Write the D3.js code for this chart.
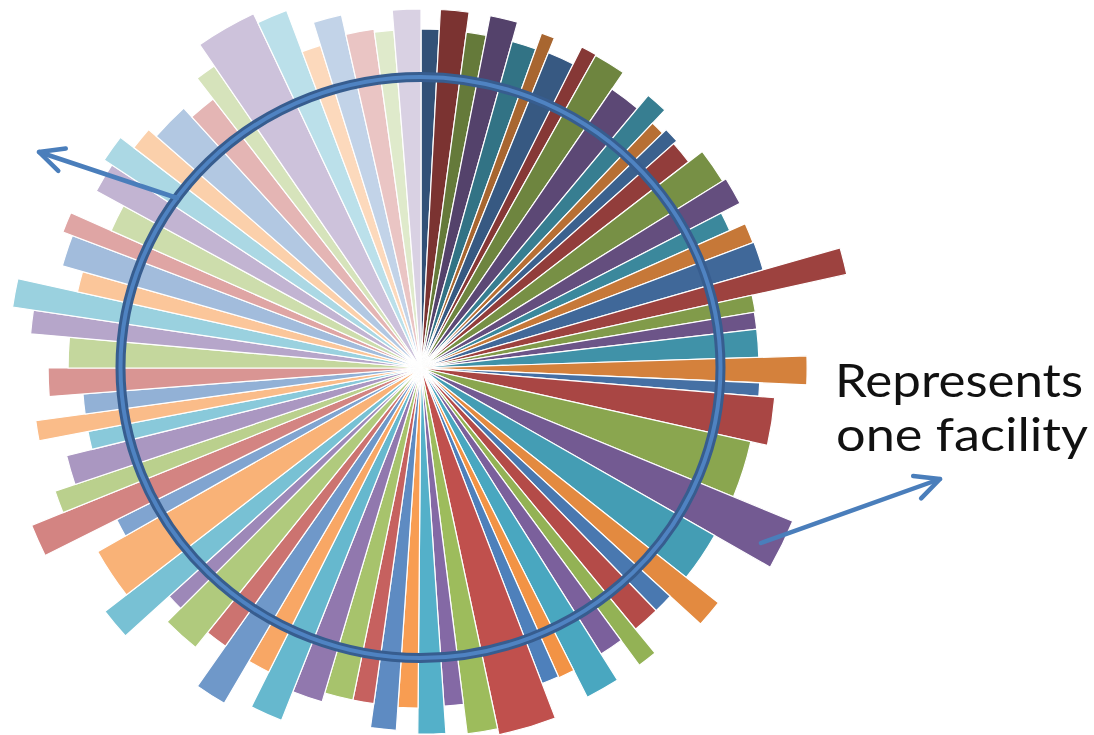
<!DOCTYPE html>
<html>
<head>
<meta charset="utf-8">
<script src="https://cdn.jsdelivr.net/npm/d3@7"></script>
<style>
  html, body { margin: 0; padding: 0; background: #ffffff; }
  svg { display: block; }
</style>
</head>
<body>
<svg id="chart" width="1094" height="735"></svg>
<script>
// Angular share of each facility slice (degrees of the full turn), clockwise from 12 o'clock
const facilityShares = [
  3.1, 4.6, 3.4, 4.5, 4.2, 2.2, 4.6, 2.6, 5.2, 5.4,
  3.6, 2.4, 2.6, 4.0, 5.8, 4.5, 3.3, 3.3, 4.7, 3.6,
  2.9, 2.9, 4.8, 4.3, 2.3, 7.8, 9.8, 7.3, 8.6, 4.2,
  3.4, 4.7, 3.1, 4.1, 5.4, 2.8, 3.0, 9.0, 4.8, 3.3,
  4.4, 3.4, 4.1, 3.6, 4.9, 5.1, 5.0, 3.8, 4.7, 3.8,
  6.1, 2.8, 4.6, 8.0, 3.1, 4.5, 3.4, 4.7, 3.1, 3.0,
  3.4, 4.4, 5.0, 3.5, 4.0, 3.4, 4.9, 3.1, 4.7, 4.7,
  4.2, 3.7, 6.4, 4.7, 3.3, 9.1, 4.7, 3.3, 4.6, 4.8,
  3.3, 4.6
];

// Radial value of each facility slice (same order)
const facilityValues = [
  100, 105.9, 100, 105.9, 100, 105, 100.3, 105.9, 105.6, 99.7,
  104.7, 99.4, 100.9, 99.7, 104.7, 105.9, 99.7, 104.7, 105, 128.6,
  100, 99.7, 99.7, 113.9, 100, 104.7, 99.7, 118.6, 99.7, 111.8,
  99.7, 99.7, 108.8, 99.7, 108.8, 100, 99.7, 110.6, 108.8, 100,
  108, 100.3, 107.1, 100, 100, 102.7, 111.8, 100.3, 114.7, 100.3,
  105.9, 100.3, 117.7, 109.7, 100.3, 123.9, 113.9, 107.7, 100, 114.7,
  100, 110, 104.1, 115.6, 121.8, 103.8, 110, 113, 100, 109.1,
  111.8, 106.8, 103.8, 100.3, 108, 115.6, 112.7, 99.7, 106.8, 100.9,
  100, 105.9
];

// Annotation text lines
const noteLines = ["Represents", "one facility"];

// Theme accent colours, cycled around the wheel
const accents = ["#4F81BD", "#C0504D", "#9BBB59", "#8064A2", "#4BACC6", "#F79646"];

const svg = d3.select("#chart");
const cx = 421, cy = 368;

const facilities = facilityShares.map((s, i) => ({ share: s, value: facilityValues[i], index: i }));

// Brightness runs from shaded (start) through the pure accent to tinted (end)
const brightness = d3.scaleLinear()
  .domain([0, 37, 60, facilities.length - 1])
  .range([-0.37, 0, 0.38, 0.70]);

function sliceColor(i) {
  const base = d3.rgb(accents[i % accents.length]);
  const b = brightness(i);
  if (b < 0) {
    return d3.rgb(base.r * (1 + b), base.g * (1 + b), base.b * (1 + b)).formatHex();
  }
  return d3.rgb(base.r + (255 - base.r) * b, base.g + (255 - base.g) * b, base.b + (255 - base.b) * b).formatHex();
}

const radius = d3.scaleLinear().domain([0, 100]).range([0, 339]);

const pie = d3.pie().sort(null).value(d => d.share);
const arc = d3.arc().innerRadius(0).outerRadius(d => radius(d.data.value));

const g = svg.append("g").attr("transform", `translate(${cx},${cy})`);

g.selectAll("path.slice")
  .data(pie(facilities))
  .join("path")
  .attr("class", "slice")
  .attr("d", arc)
  .attr("fill", d => sliceColor(d.data.index))
  .attr("stroke", "#ffffff")
  .attr("stroke-width", 1.2)
  .attr("stroke-linejoin", "miter");

// Highlight ring around the wheel
const ring = svg.append("g");
ring.append("ellipse")
  .attr("cx", 420.5).attr("cy", 367.5).attr("rx", 300).attr("ry", 290.5)
  .attr("fill", "none").attr("stroke", "#375d8f").attr("stroke-width", 10);
ring.append("ellipse")
  .attr("cx", 420.5).attr("cy", 367.5).attr("rx", 300).attr("ry", 290.5)
  .attr("fill", "none").attr("stroke", "#4f83c2").attr("stroke-width", 4);

// Pointer arrows with open chevron heads
function arrow(x1, y1, x2, y2) {
  const a = Math.atan2(y1 - y2, x1 - x2);
  const len = 27, spread = 26 * Math.PI / 180;
  const grp = svg.append("g")
    .attr("stroke", "#4a7ebb").attr("stroke-width", 4.5)
    .attr("stroke-linecap", "round").attr("stroke-linejoin", "round").attr("fill", "none");
  grp.append("line").attr("x1", x1).attr("y1", y1).attr("x2", x2).attr("y2", y2);
  grp.append("path").attr("d", d3.line()([
    [x2 + len * Math.cos(a + spread), y2 + len * Math.sin(a + spread)],
    [x2, y2],
    [x2 + len * Math.cos(a - spread), y2 + len * Math.sin(a - spread)]
  ]));
}
arrow(177, 198, 39, 152);
arrow(761, 543, 940, 479);

// Annotation text
const note = svg.append("g")
  .attr("font-family", "Lato, 'Noto Sans', sans-serif")
  .attr("font-size", 46)
  .attr("fill", "#111111");
note.append("text").attr("x", 835).attr("y", 397)
  .attr("textLength", 248).attr("lengthAdjust", "spacingAndGlyphs")
  .text(noteLines[0]);
note.append("text").attr("x", 836).attr("y", 451)
  .attr("textLength", 252).attr("lengthAdjust", "spacingAndGlyphs")
  .text(noteLines[1]);
</script>
</body>
</html>
